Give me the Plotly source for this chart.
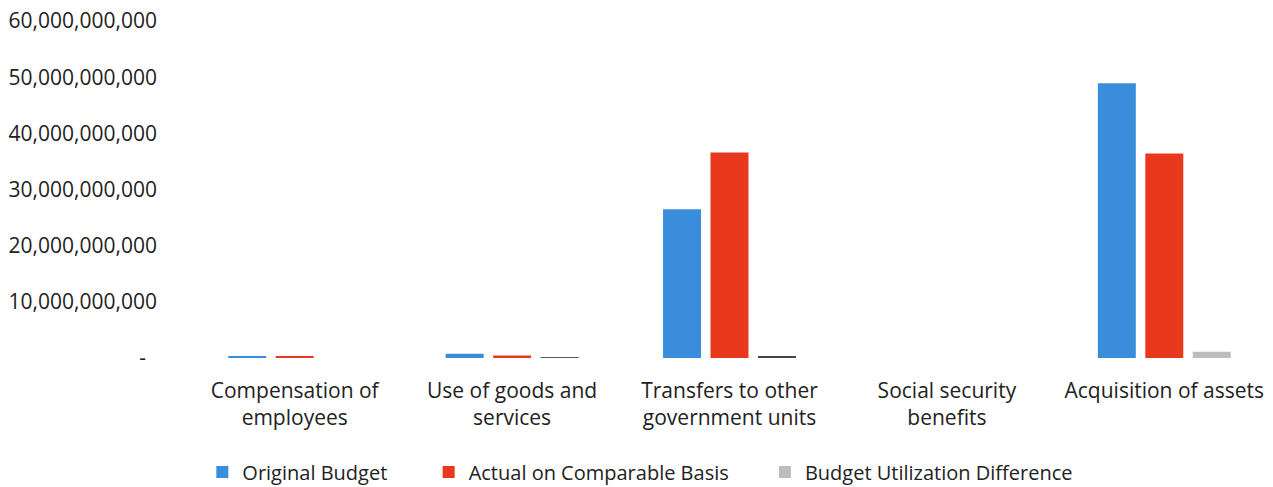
import plotly.graph_objects as go

categories = ["Compensation of<br>employees", "Use of goods and<br>services",
              "Transfers to other<br>government units", "Social security<br>benefits",
              "Acquisition of assets"]
original_budget = [3.0e8, 7.5e8, 26.5e9, 0, 48.9e9]
actual_comparable = [3.0e8, 4.5e8, 36.6e9, 0, 36.4e9]
utilization_diff = [0, 1.5e8, 2.5e8, 0, 1.1e9]

tick_vals = [0, 1e10, 2e10, 3e10, 4e10, 5e10, 6e10]
tick_text = ["-\u00a0\u00a0", "10,000,000,000", "20,000,000,000", "30,000,000,000",
             "40,000,000,000", "50,000,000,000", "60,000,000,000"]

FONT = "Open Sans, Liberation Sans, sans-serif"
NB = "\u00a0"

fig = go.Figure()
fig.add_trace(go.Bar(name="Original Budget" + NB * 7, x=categories, y=original_budget,
                     marker=dict(color="#3a8ddb", line=dict(width=0))))
fig.add_trace(go.Bar(name="Actual on Comparable Basis" + NB * 6, x=categories, y=actual_comparable,
                     marker=dict(color="#e8391f", line=dict(width=0))))
fig.add_trace(go.Bar(name="Budget Utilization Difference", x=categories, y=utilization_diff,
                     marker=dict(color=["#bdbdbd", "#555555", "#444444", "#bdbdbd", "#bdbdbd"],
                                 line=dict(width=0))))

fig.update_layout(
    width=1273, height=487,
    margin=dict(l=186, r=0, t=21, b=129, autoexpand=False),
    paper_bgcolor="white", plot_bgcolor="white",
    barmode="group", bargap=0.345, bargroupgap=0.2,
    font=dict(family=FONT, size=20, color="#222222"),
    xaxis=dict(showgrid=False, showline=False, zeroline=False, ticks="",
               automargin=False, ticklabelstandoff=18,
               tickfont=dict(size=21, color="#222222")),
    yaxis=dict(range=[0, 6e10], tickvals=tick_vals, ticktext=tick_text,
               showgrid=False, zeroline=False, showline=False, ticks="",
               automargin=False,
               ticklabelstandoff=28, tickfont=dict(size=21, color="#222222")),
    legend=dict(orientation="h", xref="container", yref="container",
                x=0.503, xanchor="center", y=0.031, yanchor="middle",
                font=dict(size=20, color="#222222"), traceorder="normal",
                itemwidth=30),
    showlegend=True,
)

fig.write_html("out.html", config={"displayModeBar": False},
               post_script="document.body.style.margin='0';document.body.style.overflow='hidden';")
